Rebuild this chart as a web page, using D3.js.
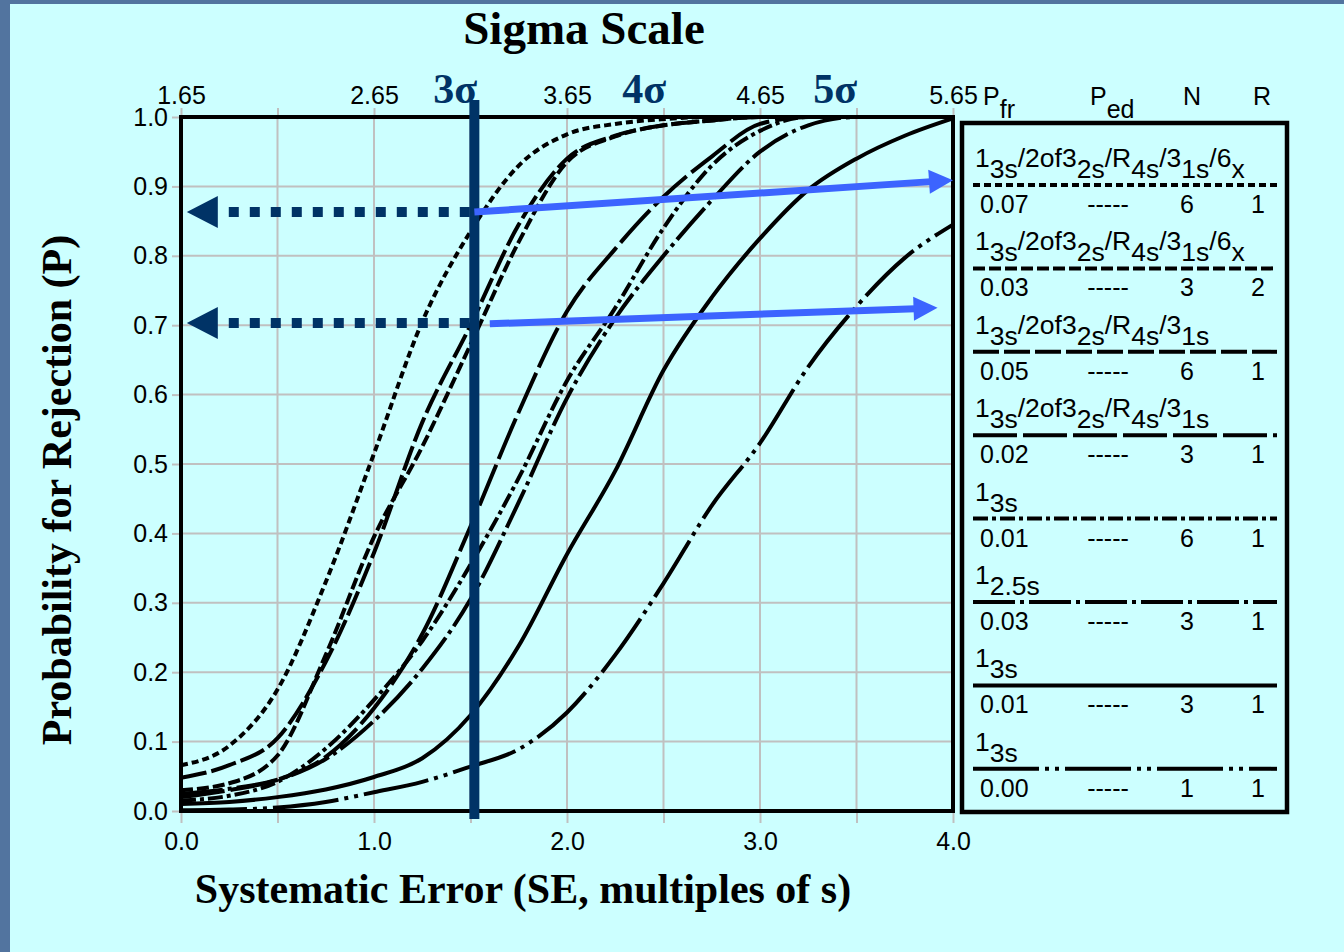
<!DOCTYPE html>
<html>
<head>
<meta charset="utf-8">
<script src="https://cdn.jsdelivr.net/npm/d3@7"></script>
<style>
html, body { margin: 0; padding: 0; background: #52749f; }
svg { display: block; }
.sans { font-family: "Liberation Sans", Arial, sans-serif; }
.serif { font-family: "Liberation Serif", "Times New Roman", serif; font-weight: bold; }
</style>
</head>
<body>
<svg id="chart" width="1344" height="952"></svg>
<script>
// Power curves
// ===================================
var seValues = [0, 0.25, 0.5, 0.75, 1, 1.25, 1.5, 1.75, 2, 2.25, 2.5, 2.75, 3, 3.25, 3.5, 3.75, 4];

var pMulti6x_N6 = [0.066, 0.094, 0.175, 0.33, 0.515, 0.705, 0.835, 0.93, 0.975, 0.99, 0.997, 1, 1, 1, 1, 1, 1];
var pMulti6x_N3 = [0.03, 0.04, 0.08, 0.225, 0.395, 0.525, 0.672, 0.82, 0.935, 0.972, 0.988, 0.995, 1, 1, 1, 1, 1];
var pMulti_N6   = [0.048, 0.066, 0.105, 0.215, 0.372, 0.56, 0.70, 0.845, 0.94, 0.973, 0.988, 0.995, 1, 1, 1, 1, 1];
var pMulti_N3   = [0.02, 0.03, 0.045, 0.078, 0.148, 0.255, 0.41, 0.575, 0.72, 0.81, 0.885, 0.943, 0.99, 1, 1, 1, 1];
var p13s_N6     = [0.015, 0.022, 0.042, 0.09, 0.16, 0.245, 0.355, 0.48, 0.62, 0.725, 0.84, 0.93, 0.98, 1, 1, 1, 1];
var p125s_N3    = [0.025, 0.032, 0.045, 0.075, 0.13, 0.205, 0.305, 0.445, 0.595, 0.71, 0.80, 0.88, 0.95, 0.988, 1, 1, 1];
var p13s_N3     = [0.01, 0.013, 0.02, 0.031, 0.049, 0.076, 0.138, 0.238, 0.37, 0.49, 0.635, 0.74, 0.825, 0.895, 0.94, 0.973, 0.998];
var p13s_N1     = [0.001, 0.002, 0.005, 0.013, 0.027, 0.042, 0.064, 0.089, 0.142, 0.225, 0.328, 0.44, 0.53, 0.64, 0.727, 0.797, 0.845];

var allCurves = [pMulti6x_N6, pMulti6x_N3, pMulti_N6, pMulti_N3, p13s_N6, p125s_N3, p13s_N3, p13s_N1];
var curveDashes = ["7,4", "12,4", "26,5", "44,6", "15,4,4,4", "42,5,4,5", "none", "66,6,4,6,4,6"];

// Legend table
var ruleLabels = [
    ["1", "3s", "/2of3", "2s", "/R", "4s", "/3", "1s", "/6", "x"],
    ["1", "3s", "/2of3", "2s", "/R", "4s", "/3", "1s", "/6", "x"],
    ["1", "3s", "/2of3", "2s", "/R", "4s", "/3", "1s"],
    ["1", "3s", "/2of3", "2s", "/R", "4s", "/3", "1s"],
    ["1", "3s"],
    ["1", "2.5s"],
    ["1", "3s"],
    ["1", "3s"]
];
var pfrValues = ["0.07", "0.03", "0.05", "0.02", "0.01", "0.03", "0.01", "0.00"];
var pedValues = ["-----", "-----", "-----", "-----", "-----", "-----", "-----", "-----"];
var nValues = ["6", "3", "6", "3", "6", "3", "3", "1"];
var rValues = ["1", "2", "1", "1", "1", "1", "1", "1"];

// Axes
var seTicks = [0, 0.5, 1, 1.5, 2, 2.5, 3, 3.5, 4];
var seTickLabels = [0, 1, 2, 3, 4];
var pTicks = [0, 0.1, 0.2, 0.3, 0.4, 0.5, 0.6, 0.7, 0.8, 0.9, 1.0];
var sigmaTicks = [1.65, 2.15, 2.65, 3.15, 3.65, 4.15, 4.65, 5.15, 5.65];
var sigmaTickLabels = [1.65, 2.65, 3.65, 4.65, 5.65];

// Annotations
var sigmaMarkLabels = ["3\u03c3", "4\u03c3", "5\u03c3"];
var sigmaMarkSE = [1.42, 2.40, 3.39];
var threeSigmaSE = 1.52;
var navyArrowP = [0.863, 0.703];
var blueArrowStart = [[1.52, 0.863], [1.60, 0.702]];
var blueArrowEnd = [[4.0, 0.909], [3.92, 0.725]];

// Canvas
// ======
var width = 1344;
var height = 952;
var svg = d3.select("#chart");

svg.append("rect").attr("width", width).attr("height", height).attr("fill", "#52749f");
svg.append("rect")
    .attr("x", 10).attr("y", 4)
    .attr("width", width - 10).attr("height", height - 4)
    .attr("fill", "#ccffff");

var plotLeft = 181, plotRight = 953, plotTop = 117, plotBottom = 811;

var xScale = d3.scaleLinear().domain([0, 4]).range([plotLeft, plotRight]);
var yScale = d3.scaleLinear().domain([0, 1]).range([plotBottom, plotTop]);
var sigmaScale = d3.scaleLinear().domain([1.65, 5.65]).range([plotLeft, plotRight]);

var gridColor = "#c0c0c0";
var tickFont = "25px";

// Grid
var grid = svg.append("g");
grid.selectAll(".vgrid").data(seTicks).enter().append("line")
    .attr("x1", function(d) { return xScale(d); })
    .attr("x2", function(d) { return xScale(d); })
    .attr("y1", plotTop).attr("y2", plotBottom)
    .attr("stroke", gridColor).attr("stroke-width", 2);
grid.selectAll(".hgrid").data(pTicks).enter().append("line")
    .attr("x1", plotLeft).attr("x2", plotRight)
    .attr("y1", function(d) { return yScale(d); })
    .attr("y2", function(d) { return yScale(d); })
    .attr("stroke", gridColor).attr("stroke-width", 2);

// Axes
function styleAxis(g) {
    g.select(".domain").remove();
    g.selectAll(".tick line").attr("stroke", gridColor).attr("stroke-width", 2);
    g.selectAll(".tick text")
        .attr("class", "sans")
        .attr("fill", "#000")
        .style("font-size", tickFont);
}

var xAxis = d3.axisBottom(xScale)
    .tickValues(seTicks)
    .tickSize(12)
    .tickPadding(9)
    .tickFormat(function(d) { return seTickLabels.indexOf(d) >= 0 ? d3.format(".1f")(d) : ""; });
svg.append("g")
    .attr("transform", "translate(0," + plotBottom + ")")
    .call(xAxis)
    .call(styleAxis);

var yAxis = d3.axisLeft(yScale)
    .tickValues(pTicks)
    .tickSize(9)
    .tickPadding(4)
    .tickFormat(d3.format(".1f"));
svg.append("g")
    .attr("transform", "translate(" + plotLeft + ",0)")
    .call(yAxis)
    .call(styleAxis);

var topAxis = d3.axisTop(sigmaScale)
    .tickValues(sigmaTicks)
    .tickSize(9)
    .tickPadding(4)
    .tickFormat(function(d) { return sigmaTickLabels.indexOf(d) >= 0 ? d3.format(".2f")(d) : ""; });
svg.append("g")
    .attr("transform", "translate(0," + plotTop + ")")
    .call(topAxis)
    .call(styleAxis);

// Curves
var line = d3.line()
    .x(function(d, i) { return xScale(seValues[i]); })
    .y(function(d) { return yScale(d); })
    .curve(d3.curveMonotoneX);

svg.append("g").selectAll("path").data(allCurves).enter().append("path")
    .attr("d", function(d) { return line(d); })
    .attr("fill", "none")
    .attr("stroke", "#000")
    .attr("stroke-width", 4)
    .attr("stroke-dasharray", function(d, i) { return curveDashes[i]; });

// Frame
svg.append("rect")
    .attr("x", plotLeft).attr("y", plotTop)
    .attr("width", plotRight - plotLeft).attr("height", plotBottom - plotTop)
    .attr("fill", "none").attr("stroke", "#000").attr("stroke-width", 4);

// Sigma marks
var navy = "#003366";
svg.append("line")
    .attr("x1", xScale(threeSigmaSE)).attr("x2", xScale(threeSigmaSE))
    .attr("y1", yScale(1.0245)).attr("y2", yScale(-0.0115))
    .attr("stroke", navy).attr("stroke-width", 10);

svg.selectAll(".sigmaMark").data(sigmaMarkLabels).enter().append("text")
    .attr("class", "serif")
    .attr("x", function(d, i) { return xScale(sigmaMarkSE[i]); })
    .attr("y", 103)
    .attr("text-anchor", "middle")
    .attr("fill", navy)
    .style("font-size", "42px")
    .text(function(d) { return d; });

// Navy dotted arrows back to the P axis
var tipX = xScale(0.03);
navyArrowP.forEach(function(p) {
    var y = yScale(p);
    svg.append("line")
        .attr("x1", tipX + 42).attr("x2", xScale(threeSigmaSE) - 4)
        .attr("y1", y).attr("y2", y)
        .attr("stroke", navy).attr("stroke-width", 10)
        .attr("stroke-dasharray", "10,11");
    svg.append("path")
        .attr("d", "M" + tipX + "," + y + "L" + (tipX + 31) + "," + (y - 16) + "L" + (tipX + 31) + "," + (y + 16) + "Z")
        .attr("fill", navy);
});

// Blue arrows over to the legend
var blue = "#3c64ff";
blueArrowStart.forEach(function(s, i) {
    var x1 = xScale(s[0]), y1 = yScale(s[1]);
    var x2 = xScale(blueArrowEnd[i][0]), y2 = yScale(blueArrowEnd[i][1]);
    var len = Math.sqrt((x2 - x1) * (x2 - x1) + (y2 - y1) * (y2 - y1));
    var ux = (x2 - x1) / len, uy = (y2 - y1) / len;
    var bx = x2 - ux * 24, by = y2 - uy * 24;
    svg.append("line")
        .attr("x1", x1).attr("y1", y1).attr("x2", bx + ux * 2).attr("y2", by + uy * 2)
        .attr("stroke", blue).attr("stroke-width", 7);
    svg.append("path")
        .attr("d", "M" + x2 + "," + y2 +
            "L" + (bx - uy * 12) + "," + (by + ux * 12) +
            "L" + (bx + uy * 12) + "," + (by - ux * 12) + "Z")
        .attr("fill", blue);
});

// Legend
// ======
var legendLeft = 962, legendTop = 123, legendRight = 1287, legendBottom = 812;
svg.append("rect")
    .attr("x", legendLeft).attr("y", legendTop)
    .attr("width", legendRight - legendLeft).attr("height", legendBottom - legendTop)
    .attr("fill", "none").attr("stroke", "#000").attr("stroke-width", 4.5);

var header = svg.append("g").attr("class", "sans").style("font-size", "25px");
function subText(g, x, y, main, sub) {
    var t = g.append("text").attr("x", x).attr("y", y);
    t.append("tspan").text(main);
    t.append("tspan").attr("dy", 13).text(sub);
    return t;
}
subText(header, 983, 105, "P", "fr");
subText(header, 1090, 105, "P", "ed");
header.append("text").attr("x", 1192).attr("y", 105).attr("text-anchor", "middle").text("N");
header.append("text").attr("x", 1262).attr("y", 105).attr("text-anchor", "middle").text("R");

var rowStep = 83.4;
var firstLineY = 185;
var rows = svg.append("g").attr("class", "sans").style("font-size", "25px");

ruleLabels.forEach(function(parts, i) {
    var ly = firstLineY + rowStep * i;
    var t = rows.append("text").attr("x", 975).attr("y", ly - 18).style("font-size", "26.5px");
    parts.forEach(function(part, k) {
        t.append("tspan")
            .attr("dy", k === 0 ? 0 : (k % 2 === 1 ? 11 : -11))
            .text(part);
    });
    rows.append("line")
        .attr("x1", 973).attr("x2", 1277)
        .attr("y1", ly).attr("y2", ly)
        .attr("stroke", "#000").attr("stroke-width", 4)
        .attr("stroke-dasharray", curveDashes[i]);
    rows.append("text").attr("x", 980).attr("y", ly + 28).text(pfrValues[i]);
    rows.append("text").attr("x", 1108).attr("y", ly + 28).attr("text-anchor", "middle").text(pedValues[i]);
    rows.append("text").attr("x", 1187).attr("y", ly + 28).attr("text-anchor", "middle").text(nValues[i]);
    rows.append("text").attr("x", 1258).attr("y", ly + 28).attr("text-anchor", "middle").text(rValues[i]);
});

// Titles
svg.append("text")
    .attr("class", "serif")
    .attr("x", 584).attr("y", 44)
    .attr("text-anchor", "middle")
    .style("font-size", "47px")
    .text("Sigma Scale");

svg.append("text")
    .attr("class", "serif")
    .attr("x", 523).attr("y", 903)
    .attr("text-anchor", "middle")
    .style("font-size", "42px")
    .text("Systematic Error (SE, multiples of s)");

svg.append("text")
    .attr("class", "serif")
    .attr("transform", "translate(71,490)rotate(-90)")
    .attr("text-anchor", "middle")
    .style("font-size", "42px")
    .text("Probability for Rejection (P)");
</script>
</body>
</html>
